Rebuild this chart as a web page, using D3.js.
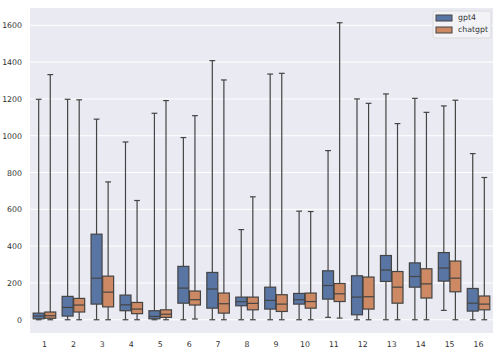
<!DOCTYPE html>
<html>
<head>
<meta charset="utf-8">
<script src="https://cdn.jsdelivr.net/npm/d3@7"></script>
<style>
  body { margin: 0; background: #ffffff; }
  text { font-family: 'DejaVu Sans', sans-serif; }
</style>
</head>
<body>
<div id="box_chart"></div>
<script>
var categories = ['1','2','3','4','5','6','7','8','9','10','11','12','13','14','15','16'];
var seriesNames = ['gpt4', 'chatgpt'];

// gpt4 five-number summaries
var gpt4Min = [0, 0, 0, 0, 0, 0, 0, 0, 0, 0, 13, 0, 0, 0, 51, 0];
var gpt4Q1  = [5, 20, 85, 49, 5, 90, 63, 76, 58, 85, 112, 27, 208, 177, 210, 47];
var gpt4Med = [20, 67, 226, 81, 18, 172, 167, 98, 105, 109, 186, 123, 270, 235, 281, 90];
var gpt4Q3  = [36, 127, 465, 134, 49, 290, 257, 123, 177, 143, 266, 239, 349, 309, 365, 170];
var gpt4Max = [1198, 1198, 1090, 966, 1122, 990, 1408, 490, 1335, 590, 919, 1200, 1227, 1203, 1162, 903];

// chatgpt five-number summaries
var chatMin = [0, 0, 0, 0, 0, 4, 0, 0, 0, 0, 9, 0, 0, 0, 0, 0];
var chatQ1  = [8, 42, 70, 33, 13, 80, 36, 54, 45, 63, 99, 58, 90, 118, 152, 54];
var chatMed = [22, 80, 150, 58, 30, 109, 87, 89, 85, 99, 141, 125, 177, 195, 226, 85];
var chatQ3  = [42, 116, 237, 94, 54, 156, 145, 123, 136, 145, 197, 232, 262, 277, 319, 129];
var chatMax = [1332, 1195, 749, 648, 1191, 1109, 1303, 668, 1339, 588, 1614, 1176, 1066, 1127, 1193, 773];

var yTicks = [0, 200, 400, 600, 800, 1000, 1200, 1400, 1600];
var colors = ['#5975a4', '#cc8963'];

var svgwidth = 501;
var svgheight = 353;
const margin = { top: 8, bottom: 20, left: 30, right: 8 };
var inner_width = svgwidth - margin.left - margin.right;
var inner_height = svgheight - margin.top - margin.bottom;

var svg = d3.select('#box_chart')
    .append('svg')
    .attr('width', svgwidth)
    .attr('height', svgheight);

var g = svg.append('g')
    .attr('transform', 'translate(' + margin.left + ',' + margin.top + ')');

// background
g.append('rect')
    .attr('width', inner_width)
    .attr('height', inner_height)
    .attr('fill', '#eaeaf2');

var xScale = d3.scaleBand()
    .domain(categories)
    .range([0, inner_width]);

var xHue = d3.scaleBand()
    .domain(seriesNames)
    .range([xScale.bandwidth() * 0.1, xScale.bandwidth() * 0.9]);

var yScale = d3.scaleLinear()
    .domain([-72, 1694])
    .range([inner_height, 0]);

// grid
g.append('g')
    .selectAll('line')
    .data(yTicks)
    .join('line')
    .attr('x1', 0)
    .attr('x2', inner_width)
    .attr('y1', d => yScale(d))
    .attr('y2', d => yScale(d))
    .attr('stroke', '#ffffff')
    .attr('stroke-width', 1);

// y axis
var yAxis = d3.axisLeft(yScale).tickValues(yTicks).tickFormat(d3.format('d')).tickSize(0).tickPadding(8);
var yG = g.append('g').call(yAxis);
yG.select('.domain').remove();
yG.selectAll('text').style('font-size', '7.8px').style('fill', '#333333');

// x axis
var xAxis = d3.axisBottom(xScale).tickSize(0).tickPadding(8);
var xG = g.append('g').attr('transform', 'translate(0,' + inner_height + ')').call(xAxis);
xG.select('.domain').remove();
xG.selectAll('text').style('font-size', '7.8px').style('fill', '#333333');

// build rows for drawing
var boxes = [];
categories.forEach(function(c, i) {
    boxes.push({ cat: c, key: 'gpt4', min: gpt4Min[i], q1: gpt4Q1[i], med: gpt4Med[i], q3: gpt4Q3[i], max: gpt4Max[i] });
    boxes.push({ cat: c, key: 'chatgpt', min: chatMin[i], q1: chatQ1[i], med: chatMed[i], q3: chatQ3[i], max: chatMax[i] });
});

var color = d3.scaleOrdinal().domain(seriesNames).range(colors);
var edge = '#444444';
var bw = xHue.bandwidth();

var bg = g.append('g')
    .selectAll('g')
    .data(boxes)
    .join('g')
    .attr('transform', d => 'translate(' + (xScale(d.cat) + xHue(d.key)) + ',0)');

// whiskers
bg.append('line')
    .attr('x1', bw / 2).attr('x2', bw / 2)
    .attr('y1', d => yScale(d.max)).attr('y2', d => yScale(d.q3))
    .attr('stroke', edge).attr('stroke-width', 1.2);
bg.append('line')
    .attr('x1', bw / 2).attr('x2', bw / 2)
    .attr('y1', d => yScale(d.q1)).attr('y2', d => yScale(d.min))
    .attr('stroke', edge).attr('stroke-width', 1.2);
// caps
bg.append('line')
    .attr('x1', bw / 4).attr('x2', bw * 3 / 4)
    .attr('y1', d => yScale(d.max)).attr('y2', d => yScale(d.max))
    .attr('stroke', edge).attr('stroke-width', 1.2);
bg.append('line')
    .attr('x1', bw / 4).attr('x2', bw * 3 / 4)
    .attr('y1', d => yScale(d.min)).attr('y2', d => yScale(d.min))
    .attr('stroke', edge).attr('stroke-width', 1.2);
// box
bg.append('rect')
    .attr('x', 0.3)
    .attr('width', bw - 0.6)
    .attr('y', d => yScale(d.q3))
    .attr('height', d => yScale(d.q1) - yScale(d.q3))
    .attr('fill', d => color(d.key))
    .attr('stroke', edge)
    .attr('stroke-width', 1.2);
// median
bg.append('line')
    .attr('x1', 0.3).attr('x2', bw - 0.3)
    .attr('y1', d => yScale(d.med)).attr('y2', d => yScale(d.med))
    .attr('stroke', edge).attr('stroke-width', 1.2);

// legend
var legend = svg.append('g').attr('transform', 'translate(433,11)');
legend.append('rect')
    .attr('width', 58).attr('height', 27)
    .attr('rx', 2)
    .attr('fill', '#f2f2f7')
    .attr('stroke', '#d6d6d6')
    .attr('stroke-width', 0.8);
legend.selectAll('.sw')
    .data(seriesNames)
    .join('rect')
    .attr('class', 'sw')
    .attr('x', 3).attr('y', (d, i) => 4 + i * 12)
    .attr('width', 16).attr('height', 6)
    .attr('fill', d => color(d))
    .attr('stroke', edge).attr('stroke-width', 1);
legend.selectAll('.lt')
    .data(seriesNames)
    .join('text')
    .attr('class', 'lt')
    .attr('x', 25).attr('y', (d, i) => 7 + i * 12)
    .attr('dominant-baseline', 'middle')
    .style('font-size', '7.8px')
    .style('fill', '#333333')
    .text(d => d);
</script>
</body>
</html>
